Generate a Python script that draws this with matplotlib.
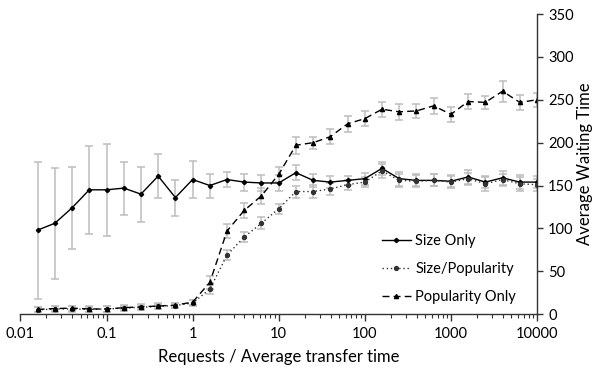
import numpy as np
import matplotlib
matplotlib.use("Agg")
import matplotlib.pyplot as plt
from matplotlib.lines import Line2D

plt.rcParams['font.family'] = ['Lato', 'DejaVu Sans']

# x values: Requests / Average transfer time (log spaced)
x_exp = [-1.8, -1.6, -1.4, -1.2, -1.0, -0.8, -0.6, -0.4, -0.2, 0.0,
         0.2, 0.4, 0.6, 0.8, 1.0, 1.2, 1.4, 1.6, 1.8, 2.0,
         2.2, 2.4, 2.6, 2.8, 3.0, 3.2, 3.4, 3.6, 3.8, 4.0]
x_vals = [10 ** e for e in x_exp]

size_only = [98, 106, 124, 145, 145, 147, 140, 161, 136, 157,
             150, 157, 154, 153, 153, 165, 156, 154, 156, 158,
             170, 158, 156, 156, 155, 160, 154, 159, 154, 154]
size_only_err = [80, 65, 48, 51, 54, 31, 32, 26, 21, 22,
                 14, 9, 10, 9, 9, 9, 8, 7, 5, 7,
                 8, 8, 7, 7, 7, 8, 7, 8, 8, 7]

size_pop = [5, 6, 6, 5.5, 6, 7, 8, 9, 10, 13,
            29, 69, 90, 106, 123, 143, 143, 146, 151, 154,
            167, 156, 155, 156, 154, 158, 152, 157, 152, 151]
size_pop_err = [3, 3, 3, 3, 3, 3, 3, 3, 3, 3,
                5, 6, 6, 7, 6, 7, 8, 7, 6, 6,
                8, 8, 7, 7, 7, 7, 8, 7, 8, 7]

pop_only = [5.5, 6.5, 7, 6, 6, 7.5, 8.5, 9.5, 10.5, 14,
            37, 97, 121, 138, 163, 197, 200, 207, 222, 228,
            239, 236, 237, 243, 233, 248, 247, 260, 247, 250]
pop_only_err = [3, 3, 3, 3, 3, 3, 3, 3, 3, 3,
                8, 8, 9, 9, 9, 10, 7, 9, 9, 9,
                9, 9, 8, 9, 9, 9, 8, 12, 9, 8]

y_ticks = [0, 50, 100, 150, 200, 250, 300, 350]
x_ticks = [0.01, 0.1, 1, 10, 100, 1000, 10000]
x_tick_labels = ['0.01', '0.1', '1', '10', '100', '1000', '10000']

fig = plt.figure(figsize=(6.0, 3.7), dpi=100)
ax = fig.add_axes([0.034, 0.151, 0.861, 0.811])

err_kw = dict(ecolor='#bdbdbd', elinewidth=1.1, capsize=3, capthick=1.1)

styles = [
    dict(color='black', ls='-', marker='D', ms=2.2, label='Size Only'),
    dict(color='#333333', ls=(0, (1, 2)), marker='o', ms=2.8, label='Size/Popularity'),
    dict(color='black', ls=(0, (5, 3)), marker='^', ms=3.0, label='Popularity Only'),
]
series = [(size_only, size_only_err), (size_pop, size_pop_err), (pop_only, pop_only_err)]

handles = []
for (vals, errs), st in zip(series, styles):
    ax.errorbar(x_vals, vals, yerr=errs, lw=1.0, **st, **err_kw)
    handles.append(Line2D([], [], lw=1.0, **st))

ax.set_xscale('log')
ax.set_xlim(0.01, 10000)
ax.set_ylim(0, 350)
ax.set_xticks(x_ticks)
ax.set_xticklabels(x_tick_labels)
ax.set_yticks(y_ticks)
ax.yaxis.tick_right()
ax.yaxis.set_label_position('right')

for s in ['top', 'left']:
    ax.spines[s].set_visible(False)
for s in ['bottom', 'right']:
    ax.spines[s].set_color('#333333')
    ax.spines[s].set_linewidth(1.0)

ax.tick_params(axis='both', which='major', direction='out', length=5,
               width=1.0, color='#333333', labelsize=10.5, pad=4)
ax.tick_params(axis='x', which='minor', direction='out', length=3,
               width=0.8, color='#333333')
ax.tick_params(axis='y', which='major', length=4)

ax.set_xlabel('Requests / Average transfer time', fontsize=12, labelpad=6)
ax.set_ylabel('Average Waiting Time', fontsize=12, labelpad=2)

leg = ax.legend(handles=handles, loc='lower right', bbox_to_anchor=(0.985, -0.01),
                frameon=False, fontsize=10.5, handlelength=2.0,
                labelspacing=0.95, handletextpad=0.3)

fig.savefig('out.png', dpi=100)
